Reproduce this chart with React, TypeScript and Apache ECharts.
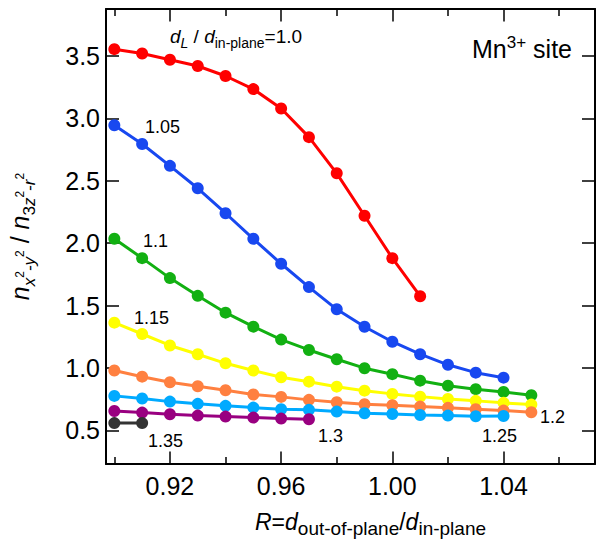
import React, { useEffect, useRef } from "react";
import * as echarts from "echarts";

// R = d_out-of-plane / d_in-plane
const R_VALUES = [0.90, 0.91, 0.92, 0.93, 0.94, 0.95, 0.96, 0.97, 0.98, 0.99, 1.00, 1.01, 1.02, 1.03, 1.04, 1.05];

const DL_LABELS = ["1.0", "1.05", "1.1", "1.15", "1.2", "1.25", "1.3", "1.35"];

const RATIO_DL_100 = [3.555, 3.52, 3.47, 3.42, 3.34, 3.235, 3.08, 2.85, 2.56, 2.22, 1.88, 1.575];
const RATIO_DL_105 = [2.945, 2.795, 2.62, 2.44, 2.24, 2.035, 1.835, 1.648, 1.47, 1.33, 1.21, 1.11, 1.025, 0.962, 0.922];
const RATIO_DL_110 = [2.035, 1.88, 1.72, 1.578, 1.443, 1.331, 1.227, 1.144, 1.07, 0.998, 0.95, 0.898, 0.858, 0.83, 0.808, 0.781];
const RATIO_DL_115 = [1.363, 1.272, 1.18, 1.11, 1.037, 0.979, 0.925, 0.89, 0.85, 0.818, 0.792, 0.77, 0.751, 0.736, 0.72, 0.706];
const RATIO_DL_120 = [0.979, 0.93, 0.885, 0.853, 0.821, 0.787, 0.768, 0.744, 0.725, 0.709, 0.701, 0.69, 0.68, 0.669, 0.658, 0.645];
const RATIO_DL_125 = [0.776, 0.755, 0.73, 0.712, 0.696, 0.682, 0.669, 0.664, 0.65, 0.637, 0.631, 0.623, 0.618, 0.613, 0.615];
const RATIO_DL_130 = [0.655, 0.642, 0.629, 0.618, 0.61, 0.602, 0.594, 0.589];
const RATIO_DL_135 = [0.558, 0.558];

const SERIES_VALUES = [RATIO_DL_100, RATIO_DL_105, RATIO_DL_110, RATIO_DL_115, RATIO_DL_120, RATIO_DL_125, RATIO_DL_130, RATIO_DL_135];
const SERIES_COLORS = ["#ff0000", "#1848f0", "#12b012", "#ffff00", "#ff8040", "#00aaff", "#990080", "#333333"];

const X_MIN = 0.897;
const X_MAX = 1.0729;
const Y_MIN = 0.23;
const Y_MAX = 3.877;
const X_MAJOR_TICKS = [0.92, 0.96, 1.0, 1.04];
const X_MINOR_TICKS = [0.9, 0.94, 0.98, 1.02, 1.06];
const Y_TICKS = [0.5, 1.0, 1.5, 2.0, 2.5, 3.0, 3.5];

const FONT = "'Liberation Sans', Arial, Helvetica, sans-serif";

function textEl(text: string, x: number, y: number, size: number, align = "left") {
  return {
    type: "text",
    x,
    y,
    z: 100,
    style: {
      text,
      fontSize: size,
      fontFamily: FONT,
      fill: "#000",
      align,
      textAlign: align,
      verticalAlign: "middle",
      textVerticalAlign: "middle",
    },
  };
}

function richEl(text: string, x: number, y: number, rich: any, align = "left", rotation = 0) {
  return {
    type: "text",
    x,
    y,
    rotation,
    z: 100,
    style: {
      text,
      fontFamily: FONT,
      fill: "#000",
      align,
      textAlign: align,
      verticalAlign: "middle",
      textVerticalAlign: "middle",
      rich,
    },
  };
}

function tok(fontSize: number, lineHeight: number, italic: boolean, verticalAlign?: string) {
  const o: any = {
    fontSize,
    lineHeight,
    fontFamily: FONT,
    fontStyle: italic ? "italic" : "normal",
    fill: "#000",
    color: "#000",
  };
  if (verticalAlign) o.verticalAlign = verticalAlign;
  return o;
}

export default function App() {
  const ref = useRef<HTMLDivElement>(null);

  useEffect(() => {
    if (!ref.current) return;
    const chart = echarts.init(ref.current, undefined, { renderer: "svg" });

    const gridPos = { left: 106, top: 9, width: 489, height: 455 };
    const axisLine = { show: true, onZero: false, lineStyle: { color: "#000", width: 2 } };

    const series = SERIES_VALUES.map((vals, i) => ({
      name: "dL/d_in-plane=" + DL_LABELS[i],
      type: "line",
      xAxisIndex: 0,
      yAxisIndex: 0,
      data: vals.map((v, j) => [R_VALUES[j], v]),
      symbol: "circle",
      symbolSize: 12,
      lineStyle: { color: SERIES_COLORS[i], width: 3 },
      itemStyle: { color: SERIES_COLORS[i] },
      z: 2 + i,
    }));

    const labelRich = {
      i: tok(19, 27.5, true),
      m: tok(19, 27.5, false),
      s: tok(14, 14, false, "bottom"),
      si: tok(14, 14, true, "bottom"),
    };
    const mnRich = {
      m: tok(25, 31.5, false),
      p: tok(17, 17, false, "top"),
    };
    const xNameRich = {
      i: tok(23, 31.5, true),
      m: tok(23, 31.5, false),
      s: tok(19, 19, false, "bottom"),
    };
    const yNameRich = {
      i: tok(25, 36.5, true),
      m: tok(25, 36.5, false),
      s: tok(17, 17, false, "bottom"),
      si: tok(17, 17, true, "bottom"),
      p: tok(12, 12, false, "middle"),
    };

    chart.setOption({
      animation: false,
      backgroundColor: "#fff",
      grid: [
        { ...gridPos, containLabel: false },
        { ...gridPos, containLabel: false },
      ],
      xAxis: [
        {
          type: "value",
          gridIndex: 0,
          position: "bottom",
          min: X_MIN,
          max: X_MAX,
          axisLine,
          axisTick: { show: true, inside: true, length: 12.5, customValues: X_MAJOR_TICKS, lineStyle: { color: "#000", width: 1.5 } },
          axisLabel: {
            show: true,
            customValues: X_MAJOR_TICKS,
            formatter: (v: number) => v.toFixed(2),
            fontSize: 25,
            fontFamily: FONT,
            color: "#000",
            margin: 9,
          },
          splitLine: { show: false },
        },
        {
          type: "value",
          gridIndex: 0,
          position: "top",
          min: X_MIN,
          max: X_MAX,
          axisLine,
          axisTick: { show: true, inside: true, length: 12.5, customValues: X_MAJOR_TICKS, lineStyle: { color: "#000", width: 1.5 } },
          axisLabel: { show: false },
          splitLine: { show: false },
        },
        {
          type: "value",
          gridIndex: 1,
          position: "bottom",
          min: X_MIN,
          max: X_MAX,
          axisLine: { show: false },
          axisTick: { show: true, inside: true, length: 7, customValues: X_MINOR_TICKS, lineStyle: { color: "#000", width: 1.5 } },
          axisLabel: { show: false },
          splitLine: { show: false },
        },
        {
          type: "value",
          gridIndex: 1,
          position: "top",
          min: X_MIN,
          max: X_MAX,
          axisLine: { show: false },
          axisTick: { show: true, inside: true, length: 7, customValues: X_MINOR_TICKS, lineStyle: { color: "#000", width: 1.5 } },
          axisLabel: { show: false },
          splitLine: { show: false },
        },
      ],
      yAxis: [
        {
          type: "value",
          gridIndex: 0,
          position: "left",
          min: Y_MIN,
          max: Y_MAX,
          axisLine,
          axisTick: { show: true, inside: true, length: 13, customValues: Y_TICKS, lineStyle: { color: "#000", width: 1.5 } },
          axisLabel: {
            show: true,
            customValues: Y_TICKS,
            formatter: (v: number) => v.toFixed(1),
            fontSize: 25,
            fontFamily: FONT,
            color: "#000",
            margin: 6,
          },
          splitLine: { show: false },
        },
        {
          type: "value",
          gridIndex: 0,
          position: "right",
          min: Y_MIN,
          max: Y_MAX,
          axisLine,
          axisTick: { show: true, inside: true, length: 13, customValues: Y_TICKS, lineStyle: { color: "#000", width: 1.5 } },
          axisLabel: { show: false },
          splitLine: { show: false },
        },
        {
          type: "value",
          gridIndex: 1,
          min: Y_MIN,
          max: Y_MAX,
          show: false,
        },
      ],
      series,
      graphic: [
        richEl("{i|d}{si|L}{m| / }{i|d}{s|in-plane}{m|=1.0}", 170, 36.7, labelRich, "left"),
        richEl("{m|Mn}{p|3+}{m| site}", 572, 49.3, mnRich, "right"),
        textEl("1.05", 145, 127, 18),
        textEl("1.1", 143, 240.5, 18),
        textEl("1.15", 134, 318, 18),
        textEl("1.35", 148, 440.5, 18),
        textEl("1.3", 318, 435.5, 18),
        textEl("1.25", 482, 435.5, 18),
        textEl("1.2", 540, 417, 18),
        richEl("{i|R}{m|=}{i|d}{s|out-of-plane}{m|/}{i|d}{s|in-plane}", 255, 522, xNameRich, "left"),
        richEl(
          "{i|n}{si|x}{p|2}{si|-y}{p|2}{m| / }{i|n}{s|3}{si|z}{p|2}{si|-r}{p|2}",
          19.6,
          236.5,
          yNameRich,
          "center",
          Math.PI / 2
        ),
      ],
    });

    return () => {
      chart.dispose();
    };
  }, []);

  return (
    <div
      ref={ref}
      style={{ position: "absolute", left: 0, top: 0, width: 597, height: 544, background: "#fff" }}
    />
  );
}
